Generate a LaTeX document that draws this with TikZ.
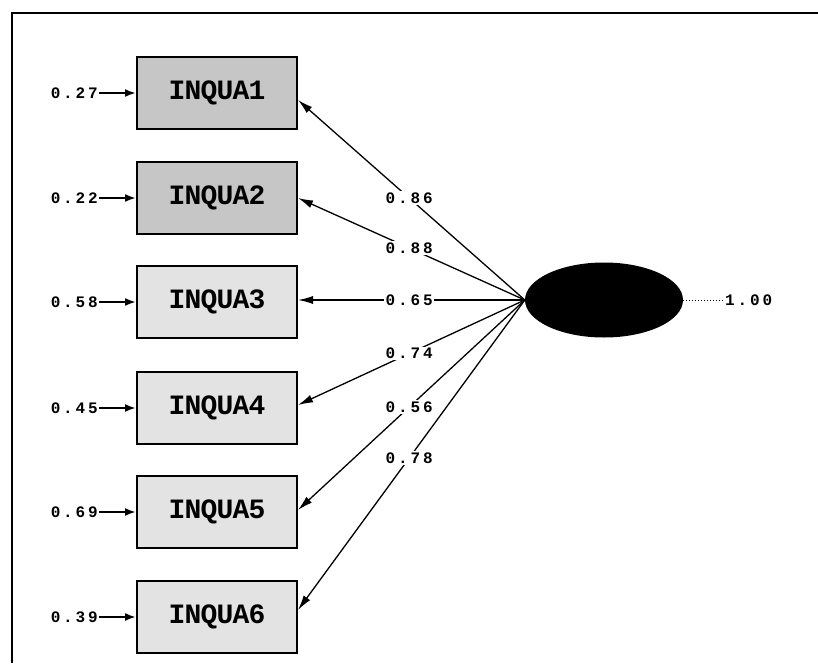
\documentclass[tikz,border=0pt]{standalone}
\usepackage{fontspec}
\setmonofont{Liberation Mono}
\usetikzlibrary{arrows.meta,shapes.geometric}
\newfontfamily\coeffont[LetterSpace=18]{Liberation Mono Bold}
\newfontfamily\varfont[LetterSpace=-3]{Liberation Mono Bold}
\begin{document}
\begin{tikzpicture}[x=1pt,y=-1pt,
  obsbox/.style={draw=black, line width=2pt, minimum width=160pt, minimum height=72pt,
    inner sep=0pt, font=\varfont\fontsize{28}{28}\selectfont},
  darkbox/.style={obsbox, fill=gray!45},
  lightbox/.style={obsbox, fill=gray!22},
  errlabel/.style={anchor=east, inner sep=1pt, font=\coeffont\fontsize{16}{16}\selectfont},
  coef/.style={fill=white, inner sep=1.5pt, font=\coeffont\fontsize{16}{16}\selectfont},
  errarrow/.style={line width=2pt, -{Latex[length=11pt,width=8pt]}},
  loading/.style={line width=1.3pt, -{Latex[length=15pt,width=8pt]}}]
\useasboundingbox (0,0) rectangle (818,663);
% frame
\draw[line width=1.5pt] (12,663) -- (12,13) -- (818,13);
% observed variables
\node[darkbox]  (b1) at (217,93)  {INQUA1};
\node[darkbox]  (b2) at (217,198) {INQUA2};
\node[lightbox] (b3) at (217,302) {INQUA3};
\node[lightbox] (b4) at (217,408) {INQUA4};
\node[lightbox] (b5) at (217,512) {INQUA5};
\node[lightbox] (b6) at (217,617) {INQUA6};
% error variances
\node[errlabel] (e1) at (99,93)  {0.27};
\node[errlabel] (e2) at (99,198) {0.22};
\node[errlabel] (e3) at (99,302) {0.58};
\node[errlabel] (e4) at (99,408) {0.45};
\node[errlabel] (e5) at (99,512) {0.69};
\node[errlabel] (e6) at (99,617) {0.39};
\foreach \i in {1,...,6} \draw[errarrow] (e\i.east) -- (b\i.west);
% latent variable
\node[ellipse, fill=black, minimum width=158pt, minimum height=75pt, inner sep=0pt] (lv) at (604,300) {};
\node[inner sep=1pt, font=\coeffont\fontsize{16}{16}\selectfont, anchor=west] (lvv) at (724,300) {1.00};
\draw[line width=1pt, dotted] (lv.east) -- (lvv.west);
% loadings
\draw[loading] (lv.west) -- node[coef, pos=0.51] {0.86} ([yshift=-7pt]b1.east);
\draw[loading] (lv.west) -- node[coef, pos=0.51] {0.88} (b2.east);
\draw[loading] (lv.west) -- node[coef, pos=0.51] {0.65} ([yshift=2pt]b3.east);
\draw[loading] (lv.west) -- node[coef, pos=0.51] {0.74} ([yshift=3pt]b4.east);
\draw[loading] (lv.west) -- node[coef, pos=0.51] {0.56} ([yshift=2pt]b5.east);
\draw[loading] (lv.west) -- node[coef, pos=0.51] {0.78} ([yshift=7pt]b6.east);
\end{tikzpicture}
\end{document}
